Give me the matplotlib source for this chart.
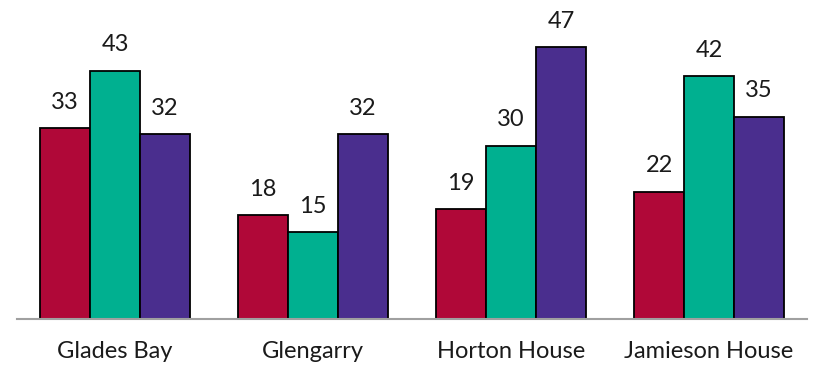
import matplotlib
matplotlib.use("Agg")
import matplotlib.pyplot as plt
import numpy as np

plt.rcParams["font.family"] = ["Lato", "DejaVu Sans"]

categories = ["Glades Bay", "Glengarry", "Horton House", "Jamieson House"]
series_a = [33, 18, 19, 22]
series_b = [43, 15, 30, 42]
series_c = [32, 32, 47, 35]

colors = ["#B00838", "#00B090", "#4A2E8E"]

fig = plt.figure(figsize=(8.14, 3.67), dpi=100)
ax = fig.add_axes([0.0209, 0.1308, 0.9705, 0.8692])

x = np.arange(len(categories))
width = 0.2525
for i, (vals, color) in enumerate(zip([series_a, series_b, series_c], colors)):
    pos = x + (i - 1) * width
    ax.bar(pos, vals, width, color=color, edgecolor="black", linewidth=1.3, zorder=2)
    for px, v in zip(pos, vals):
        ax.annotate(str(v), (px, v), xytext=(0, 14), textcoords="offset points",
                    ha="center", va="baseline", fontsize=17, color="#1a1a1a")

ax.set_xlim(-0.495, 3.495)
ax.set_ylim(0, 55.2)
ax.set_xticks(x)
ax.set_xticklabels(categories, fontsize=17, color="#1a1a1a")
ax.tick_params(axis="x", length=0, pad=16)
ax.set_yticks([])
for side in ["top", "left", "right"]:
    ax.spines[side].set_visible(False)
ax.spines["bottom"].set_color("#A0A0A0")
ax.spines["bottom"].set_linewidth(1.5)
ax.spines["bottom"].set_zorder(3)

fig.savefig("out.png", dpi=100)
